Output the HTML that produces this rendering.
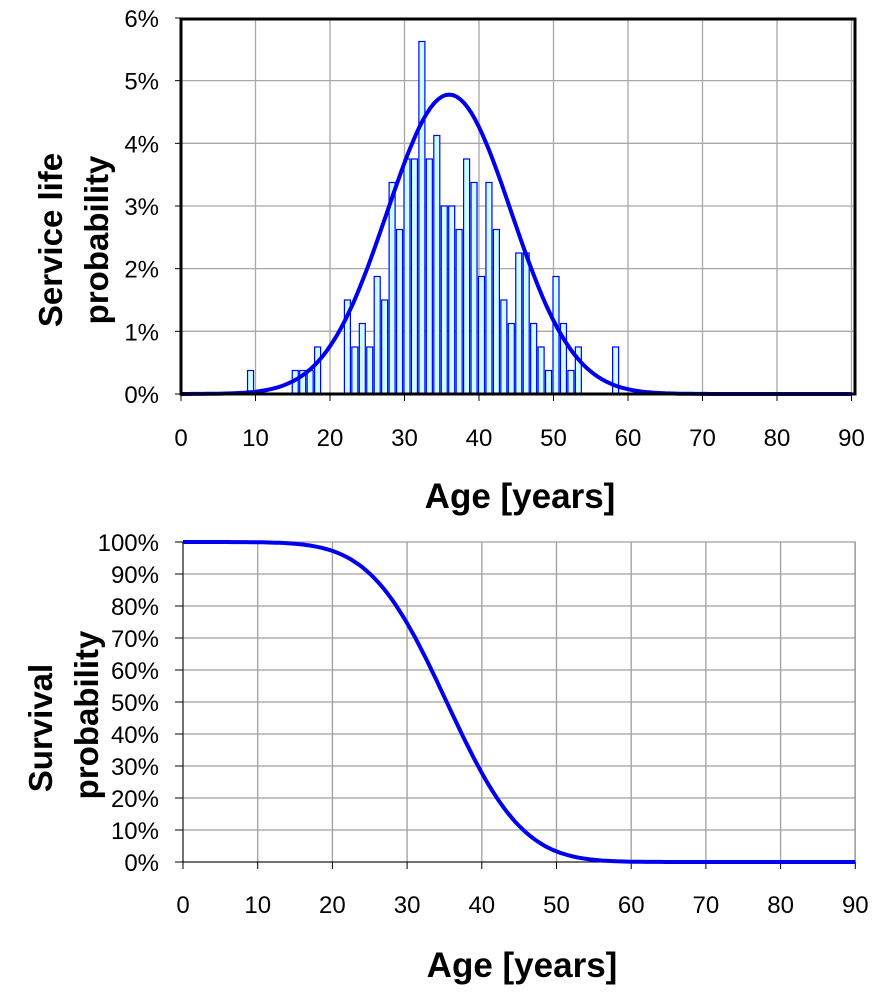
<!DOCTYPE html>
<html><head><meta charset="utf-8"><style>
html,body{margin:0;padding:0;background:#fff;}
svg{display:block;font-family:"Liberation Sans",Arial,sans-serif;}
</style></head><body>
<svg id="s" width="894" height="1004" viewBox="0 0 894 1004" xmlns="http://www.w3.org/2000/svg">
<g id="g1"></g>
<text font-size="33" font-weight="bold" text-anchor="middle" transform="translate(62 240) rotate(-90)">Service life</text>
<text font-size="33" font-weight="bold" text-anchor="middle" transform="translate(108 240) rotate(-90)">probability</text>
<text x="520" y="508" font-size="35" font-weight="bold" text-anchor="middle">Age [years]</text>
<text font-size="33" font-weight="bold" text-anchor="middle" transform="translate(52 728) rotate(-90)">Survival</text>
<text font-size="33" font-weight="bold" text-anchor="middle" transform="translate(98 715) rotate(-90)">probability</text>
<text x="522" y="977" font-size="35" font-weight="bold" text-anchor="middle">Age [years]</text>
</svg>
<script>
var g=document.getElementById('g1'),h='';
function X1(v){return 181+v*7.45;}function Y1(p){return 394-p*62.67;}
for(var i=1;i<=9;i++)h+='<line x1="'+X1(i*10)+'" y1="19" x2="'+X1(i*10)+'" y2="394" stroke="#a8a8a8" stroke-width="1.3"/>';
for(var i=1;i<=5;i++)h+='<line x1="181" y1="'+Y1(i)+'" x2="855" y2="'+Y1(i)+'" stroke="#a8a8a8" stroke-width="1.3"/>';
for(var i=0;i<=6;i++){h+='<line x1="175" y1="'+Y1(i)+'" x2="181" y2="'+Y1(i)+'" stroke="#000"/>';h+='<text x="159" y="'+(Y1(i)+9)+'" font-size="24" text-anchor="end">'+i+'%</text>';}
for(var i=0;i<=9;i++){h+='<line x1="'+X1(i*10)+'" y1="394" x2="'+X1(i*10)+'" y2="401" stroke="#000"/>';h+='<text x="'+X1(i*10)+'" y="446" font-size="24" text-anchor="middle">'+(i*10)+'</text>';}
var bars={9:1,15:1,16:1,17:1,18:2,22:4,23:2,24:3,25:2,26:5,27:4,28:9,29:7,30:10,31:10,32:15,33:10,34:11,35:8,36:8,37:7,38:10,39:9,40:5,41:9,42:7,43:4,44:3,45:6,46:6,47:3,48:2,49:1,50:5,51:3,52:1,53:2,58:2};
for(var k in bars){var hh=bars[k]*0.375*62.67;h+='<rect x="'+(X1(+k)-0.5)+'" y="'+(394-hh)+'" width="6" height="'+hh+'" fill="#ccffff" stroke="#0000ff" stroke-width="1.2"/>';}
h+='<line x1="181" y1="394" x2="855" y2="394" stroke="#000" stroke-width="3"/>';
var m=36,sd=8.35,d='';
for(var v=0;v<=90;v+=0.5){var p=100/(sd*Math.sqrt(2*Math.PI))*Math.exp(-Math.pow(v-m,2)/(2*sd*sd));d+=(v?'L':'M')+X1(v).toFixed(1)+' '+Y1(p).toFixed(1);}
h+='<path d="'+d+'" fill="none" stroke="#0000ee" stroke-width="4"/>';
h+='<rect x="181" y="19" width="674" height="375" fill="none" stroke="#000" stroke-width="3"/>';
function X2(v){return 183+v*7.47;}function Y2(p){return 862-p*3.2;}
for(var i=1;i<=9;i++)h+='<line x1="'+X2(i*10)+'" y1="542" x2="'+X2(i*10)+'" y2="862" stroke="#a0a0a0" stroke-width="1.3"/>';
for(var i=1;i<=9;i++)h+='<line x1="183" y1="'+Y2(i*10)+'" x2="855" y2="'+Y2(i*10)+'" stroke="#a0a0a0" stroke-width="1.3"/>';
h+='<rect x="183" y="542" width="672" height="320" fill="none" stroke="#a0a0a0" stroke-width="1.3"/>';
h+='<line x1="183" y1="542" x2="183" y2="862" stroke="#000"/><line x1="183" y1="862" x2="855" y2="862" stroke="#000"/>';
for(var i=0;i<=10;i++){h+='<line x1="175" y1="'+Y2(i*10)+'" x2="183" y2="'+Y2(i*10)+'" stroke="#000"/>';h+='<text x="159" y="'+(Y2(i*10)+9)+'" font-size="24" text-anchor="end">'+(i*10)+'%</text>';}
for(var i=0;i<=9;i++){h+='<line x1="'+X2(i*10)+'" y1="862" x2="'+X2(i*10)+'" y2="869" stroke="#000"/>';h+='<text x="'+X2(i*10)+'" y="913" font-size="24" text-anchor="middle">'+(i*10)+'</text>';}
function erf(x){var s=x<0?-1:1;x=Math.abs(x);var t=1/(1+0.3275911*x);var y=1-(((((1.061405429*t-1.453152027)*t)+1.421413741)*t-0.284496736)*t+0.254829592)*t*Math.exp(-x*x);return s*y;}
d='';var m2=35.3,s2=8.0;
for(var v=0;v<=90;v+=0.5){var S=100*(1-0.5*(1+erf((v-m2)/(s2*Math.SQRT2))));d+=(v?'L':'M')+X2(v).toFixed(1)+' '+Y2(S).toFixed(1);}
h+='<path d="'+d+'" fill="none" stroke="#0000ee" stroke-width="4"/>';
g.innerHTML=h;
</script>
</body></html>
